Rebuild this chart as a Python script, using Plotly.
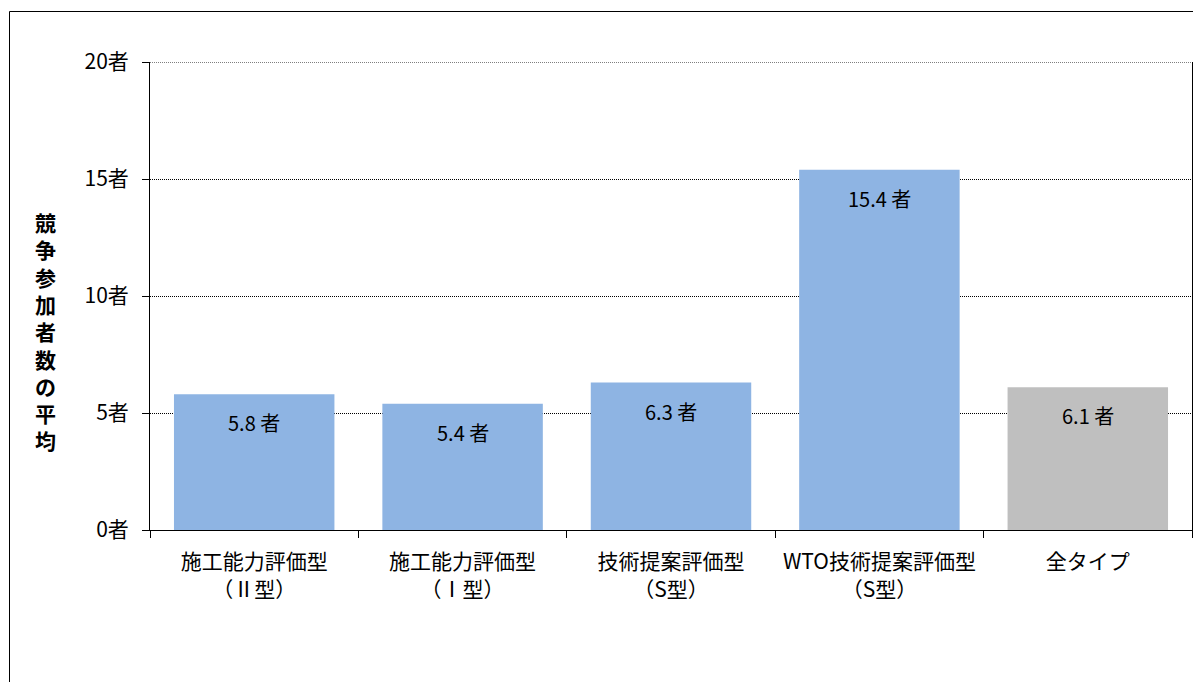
import plotly.graph_objects as go

categories = [
    "施工能力評価型<br>（Ⅱ型）",
    "施工能力評価型<br>（Ⅰ型）",
    "技術提案評価型<br>（S型）",
    "WTO技術提案評価型<br>（S型）",
    "全タイプ",
]
values = [5.8, 5.4, 6.3, 15.4, 6.1]
bar_colors = ["#8EB4E3", "#8EB4E3", "#8EB4E3", "#8EB4E3", "#BFBFBF"]
y_ticks = [0, 5, 10, 15, 20]
y_tick_labels = [f"{v}者" for v in y_ticks]
y_title = "競争参加者数の平均"

FONT = "Noto Sans CJK JP"
GRID_DASH = "1px,1px"

fig = go.Figure(
    go.Bar(
        x=categories,
        y=values,
        marker=dict(color=bar_colors, line=dict(width=0)),
        width=0.77,
        hoverinfo="skip",
    )
)

# value labels just inside the top of each bar
for c, v in zip(categories, values):
    fig.add_annotation(
        x=c, y=v, text=f"{v:.1f} 者", showarrow=False,
        yanchor="top", yshift=-12,
        font=dict(family=FONT, size=20, color="#000000"),
    )

# vertical axis title, one character per line
fig.add_annotation(
    xref="paper", yref="paper",
    x=(45 - 150) / 1042, y=(530 - 331) / 468,
    text="<br>".join(list(y_title)), showarrow=False,
    xanchor="center", yanchor="middle",
    font=dict(family=FONT, size=21, color="#000000", weight="bold"),
)

# top gridline at the axis maximum
fig.add_shape(
    type="line", xref="paper", yref="y",
    x0=0, x1=1, y0=y_ticks[-1], y1=y_ticks[-1],
    line=dict(color="#000000", width=1, dash=GRID_DASH),
)

# outer chart frame
fig.add_shape(
    type="rect", xref="paper", yref="paper",
    x0=(9.5 - 150) / 1042, x1=1.05,
    y0=-0.5, y1=(530 - 11.5) / 468,
    line=dict(color="#000000", width=1), fillcolor="rgba(0,0,0,0)",
    layer="below",
)

fig.update_layout(
    width=1193, height=682,
    margin=dict(l=150, r=1, t=62, b=152),
    paper_bgcolor="white", plot_bgcolor="white",
    showlegend=False,
    font=dict(family=FONT, size=18, color="#000000"),
)

fig.update_xaxes(
    showline=True, linecolor="#000000", linewidth=1,
    ticks="outside", ticklen=7, tickcolor="#000000",
    tickson="boundaries",
    tickfont=dict(family=FONT, size=21),
    ticklabelstandoff=13,
    showgrid=False, mirror=False,
)
fig.update_yaxes(
    range=[0, 20],
    tickvals=y_ticks, ticktext=y_tick_labels,
    showline=True, linecolor="#000000", linewidth=1,
    ticks="outside", ticklen=7, tickcolor="#000000",
    tickfont=dict(family=FONT, size=21),
    ticklabelstandoff=9,
    showgrid=True, gridcolor="#000000", gridwidth=1, griddash=GRID_DASH,
    zeroline=False, mirror=True,
)

fig.write_html("out.html")
